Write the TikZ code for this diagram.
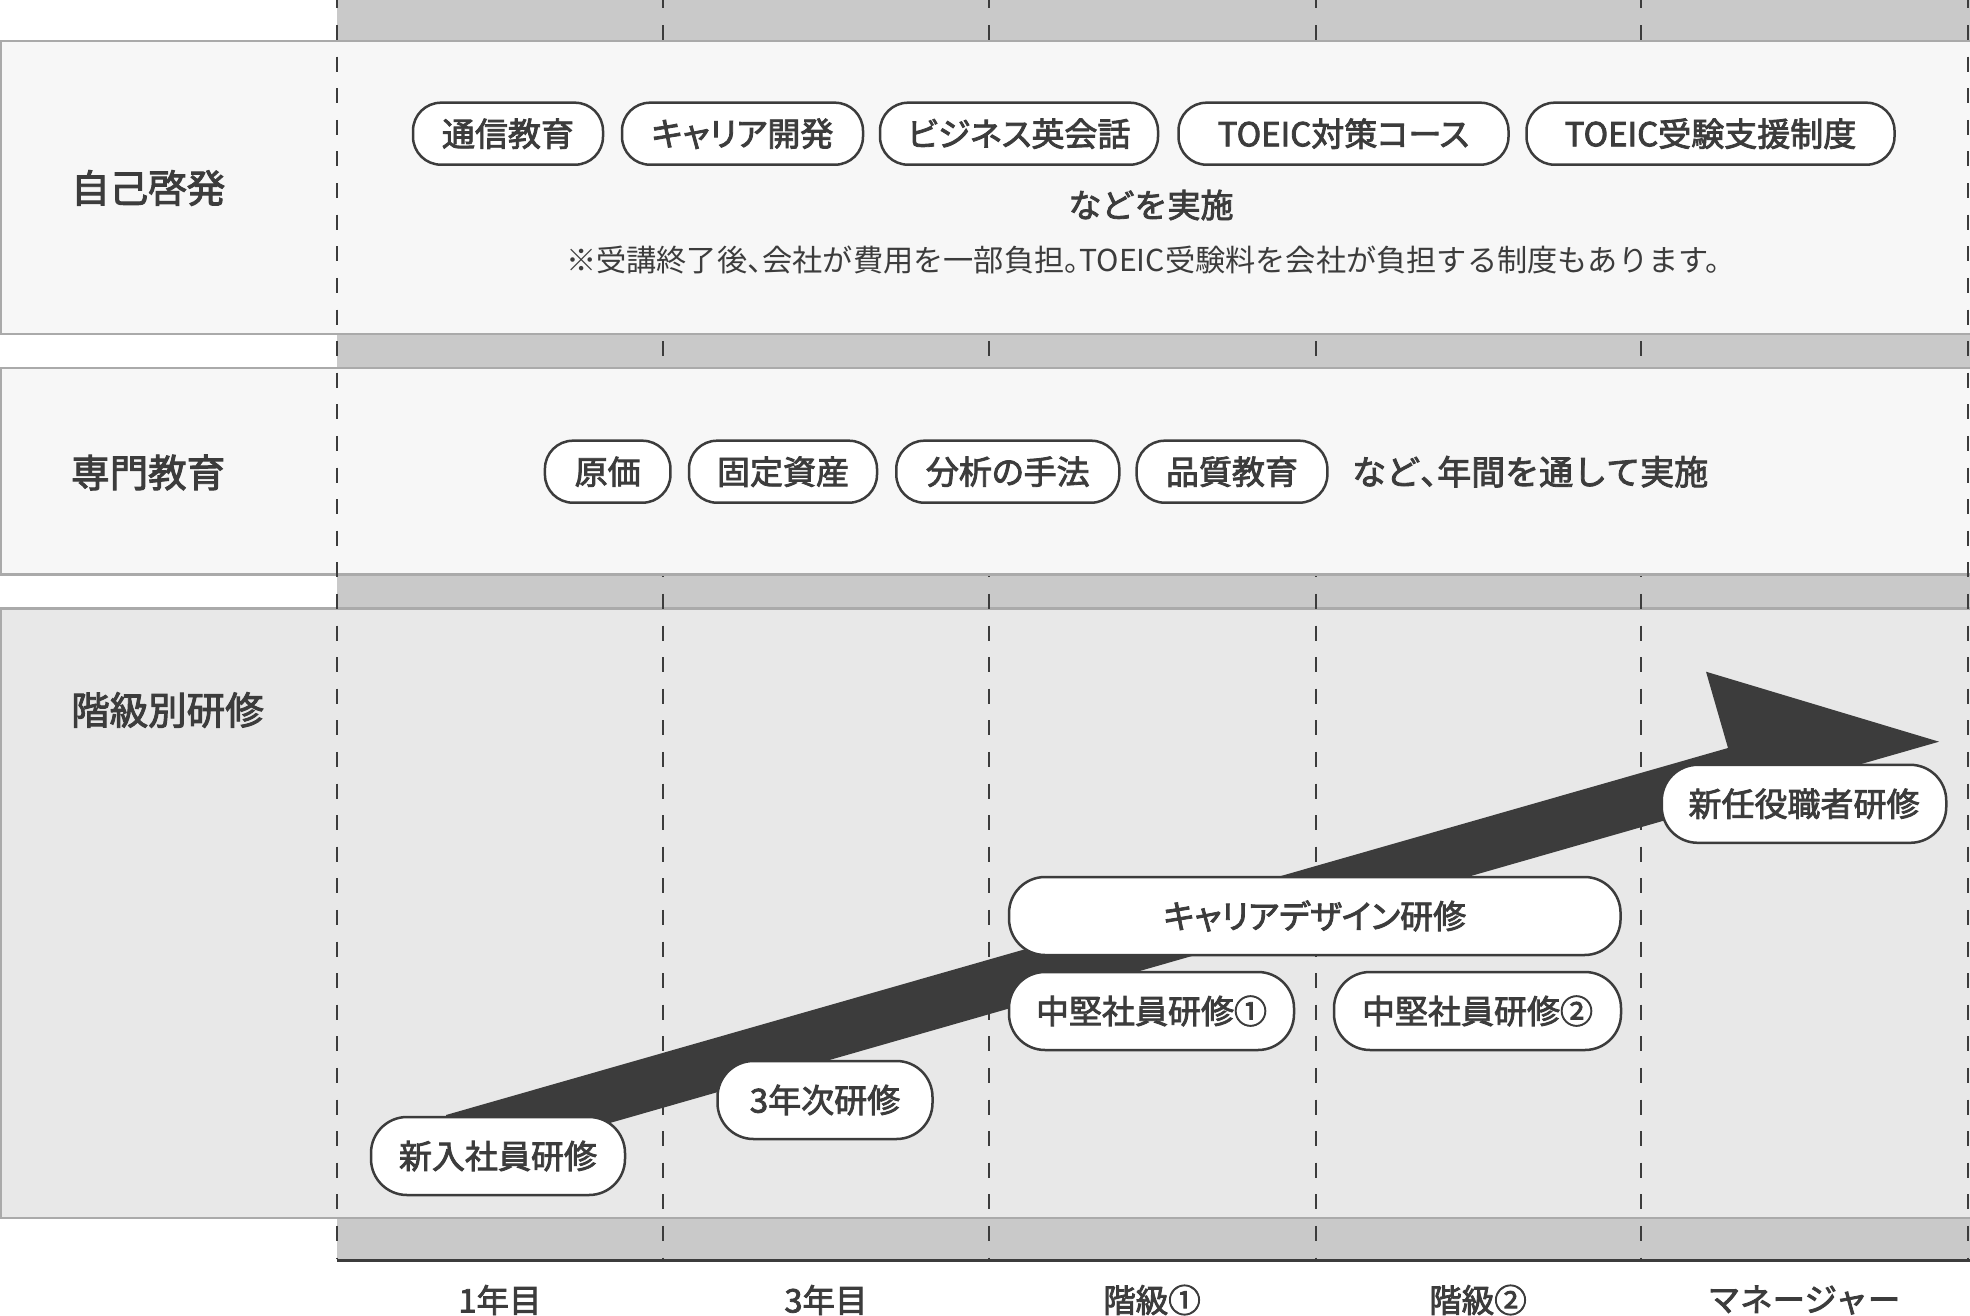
\documentclass[tikz,border=0pt]{standalone}
\usepackage{fontspec}
\setmainfont{Noto Sans CJK JP}
\newfontfamily\jpm{Noto Sans CJK JP}[FakeBold=2.5]
\newfontfamily\jpmp{Noto Sans CJK JP}[FakeBold=2.5, RawFeature=+palt]
\newfontfamily\jpr{Noto Sans CJK JP}
\newcommand\pillfont{\jpmp\fontsize{33}{36}\selectfont}
\newcommand\plainfont{\jpm\fontsize{33}{36}\selectfont}
\newcommand\botfont{\jpm\fontsize{32.5}{36}\selectfont}
\newcommand\labfont{\jpm\fontsize{38.5}{42}\selectfont}
\newcommand\notefont{\jpr\fontsize{30.2}{32}\selectfont}
\newcommand\hw[1]{\makebox[0.5em][l]{#1}}
\definecolor{dk}{HTML}{3C3C3C}
\definecolor{bandc}{HTML}{C9C9C9}
\definecolor{rowA}{HTML}{F7F7F7}
\definecolor{rowB}{HTML}{E8E8E8}
\definecolor{bord}{HTML}{AAAAAA}
\tikzset{
  pill/.style={draw=dk, line width=2.5pt, fill=white, rounded corners=28pt,
    minimum height=62pt, inner sep=0pt, font=\pillfont, text=dk},
  pillL/.style={pill, rounded corners=36pt, minimum height=78pt},
  rowbox/.style={draw=bord, line width=2.5pt},
  bandbox/.style={fill=bandc},
  gridline/.style={draw=dk, line width=2pt, dash pattern=on 15pt off 16.6pt, dash phase=6.5pt},
  lab/.style={font=\labfont, text=dk, inner sep=0pt, anchor=west},
  plain/.style={font=\plainfont, text=dk, inner sep=0pt},
  bot/.style={font=\botfont, text=dk, inner sep=0pt},
  note/.style={font=\notefont, text=dk, inner sep=0pt},
}
\begin{document}
\begin{tikzpicture}[x=1pt,y=-1pt]
\useasboundingbox (0,0) rectangle (1970,1316);
\fill[white] (0,0) rectangle (1970,1316);
% bands
\path[bandbox] (336.7,0) rectangle (1975,41);
\path[bandbox] (336.7,334) rectangle (1975,368);
\path[bandbox] (336.7,574.5) rectangle (1975,608.5);
\path[bandbox] (336.7,1218) rectangle (1975,1260);
% row 3
\filldraw[rowbox, fill=rowB] (1.2,608.5) rectangle (1980,1218);
% bottom rule
\draw[dk, line width=3pt] (336.7,1260) -- (1975,1260);
% grid lines (covered by rows 1 and 2 except at the edges)
\foreach \gx in {663.4,988.8,1315.5,1640.9}
  \draw[gridline] (\gx,0) -- (\gx,1259);
% rows 1 and 2
\filldraw[rowbox, fill=rowA] (1.2,41) rectangle (1980,334);
\filldraw[rowbox, fill=rowA] (1.2,368) rectangle (1980,574.5);
\foreach \gx in {336.7,1967.8}
  \draw[gridline] (\gx,0) -- (\gx,1259);
% arrow
\fill[dk] (446,1115) -- (1728,748) -- (1706,671.7) -- (1939,741.7) -- (446,1170) -- cycle;
% labels
\node[lab] (l1) at (71,188) {自己啓発};
\node[lab] (l2) at (71,472.5) {専門教育};
\node[lab] (l3) at (71,710) {階級別研修};
% row 1
\node[pill, minimum width=190pt] (p1) at (508,133.7) {通信教育};
\node[pill, minimum width=241pt] (p2) at (742.5,133.7) {キャリア開発};
\node[pill, minimum width=278pt] (p3) at (1019,133.7) {ビジネス英会話};
\node[pill, minimum width=330pt] (p4) at (1343.5,133.7) {TOEIC対策コース};
\node[pill, minimum width=368pt] (p5) at (1710.5,133.7) {TOEIC受験支援制度};
\node[plain] (t1) at (1151,205) {などを実施};
\node[note] (t2) at (1151,260) {※受講終了後\hw{、}会社が費用を一部負担\hw{。}TOEIC受験料を会社が負担する制度もあります。};
% row 2
\node[pill, minimum width=125.5pt] (q1) at (607.7,471.7) {原価};
\node[pill, minimum width=188pt] (q2) at (783,471.7) {固定資産};
\node[pill, minimum width=223pt] (q3) at (1007.8,471.7) {分析の手法};
\node[pill, minimum width=190.7pt] (q4) at (1232,471.7) {品質教育};
\node[plain, anchor=west, font=\jpm\fontsize{34}{36}\selectfont] (t3) at (1352,471.7) {など\hw{、}年間を通して実施};
% row 3
\node[pillL, minimum width=254pt] (r1) at (498,1156) {新入社員研修};
\node[pillL, minimum width=215pt] (r2) at (825,1100) {3年次研修};
\node[pillL, minimum width=611.5pt] (r3) at (1314.8,916) {キャリアデザイン研修};
\node[pillL, minimum width=285pt] (r4) at (1151.5,1011) {中堅社員研修①};
\node[pillL, minimum width=287pt] (r5) at (1477.5,1011) {中堅社員研修②};
\node[pillL, minimum width=284.5pt] (r6) at (1804,803.8) {新任役職者研修};
% bottom labels
\node[bot] (b1) at (500,1300) {1年目};
\node[bot] (b2) at (826,1300) {3年目};
\node[bot] (b3) at (1152,1300) {階級①};
\node[bot] (b4) at (1478,1300) {階級②};
\node[bot] (b5) at (1804,1300) {マネージャー};
\end{tikzpicture}
\end{document}
